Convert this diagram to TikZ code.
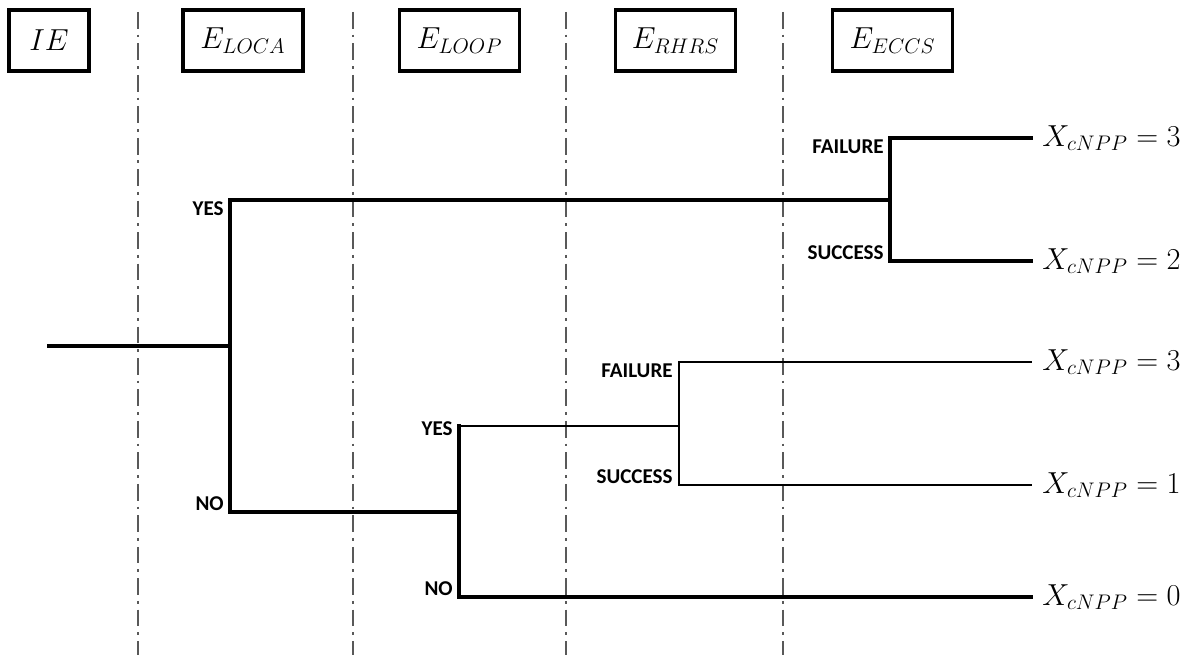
\documentclass[tikz,border=0pt]{standalone}
\usepackage{amsmath}
\usepackage{fontspec}
\newfontfamily\labelfont{Carlito}
\usetikzlibrary{positioning,calc}
\tikzset{
  thickline/.style={line width=2pt, line cap=rect},
  thinline/.style={line width=1.3pt, line cap=rect},
  sepline/.style={line width=1.5pt, gray!70!black, dash pattern=on 9.5pt off 3.4pt on 1.6pt off 3.4pt},
  headbox/.style={draw, line width=2pt, minimum width=2.4cm, minimum height=1.22cm, inner sep=0pt, font=\fontsize{17}{20}\selectfont},
  brlabel/.style={font=\labelfont\bfseries\fontsize{12}{14}\selectfont, inner xsep=1.2mm, inner ysep=0.2mm},
  outlabel/.style={anchor=west, inner xsep=2.2mm, inner ysep=0pt, font=\fontsize{16.5}{20}\selectfont}
}

\begin{document}
\begin{tikzpicture}[x=0.2mm, y=-0.2mm]
  \useasboundingbox (0,0) rectangle (1182,655);
  % column separators
  \foreach \sx in {138,353,566,783}
    \draw[sepline] (\sx,12) -- (\sx,655);

  % header boxes
  \node[headbox, minimum width=1.6cm] (ie) at (49,40.5) {$IE$};
  \node[headbox] (loca) at (243,40.5) {$E_{LOCA}$};
  \node[headbox] (loop) at (459.5,40.5) {$E_{LOOP}$};
  \node[headbox] (rhrs) at (675.5,40.5) {$E_{RHRS}$};
  \node[headbox] (eccs) at (892.5,40.5) {$E_{ECCS}$};

  % branch points
  \coordinate (root) at (49,346);
  \coordinate (j1) at (230,346);
  \coordinate (j1y) at (230,200);
  \coordinate (j1n) at (230,512);
  \coordinate (j2) at (890,200);
  \coordinate (j2f) at (890,138);
  \coordinate (j2s) at (890,261);
  \coordinate (j3) at (459,512);
  \coordinate (j3y) at (459,426);
  \coordinate (j3n) at (459,597);
  \coordinate (j4) at (679,426);
  \coordinate (j4f) at (679,362);
  \coordinate (j4s) at (679,485);

  % end states
  \node[outlabel] (x1) at (1031,138) {$X_{cNPP}=3$};
  \node[outlabel] (x2) at (1031,261) {$X_{cNPP}=2$};
  \node[outlabel] (x3) at (1031,362) {$X_{cNPP}=3$};
  \node[outlabel] (x4) at (1031,485) {$X_{cNPP}=1$};
  \node[outlabel] (x5) at (1031,597) {$X_{cNPP}=0$};

  % tree
  \draw[thickline] (root) -- (j1);
  \draw[thickline] (j1y) -- (j1n);
  \draw[thickline] (j1y) -- (j2);
  \draw[thickline] (j2f) -- (j2s);
  \draw[thickline] (j2f) -- (x1.west);
  \draw[thickline] (j2s) -- (x2.west);
  \draw[thickline] (j1n) -- (j3);
  \draw[thickline] (j3y) -- (j3n);
  \draw[thickline] (j3n) -- (x5.west);
  \draw[thinline] (j3y) -- (j4);
  \draw[thinline] (j4f) -- (j4s);
  \draw[thinline] (j4f) -- (x3.west);
  \draw[thinline] (j4s) -- (x4.west);

  % branch labels
  \node[brlabel, anchor=north east] (yes1) at (j1y) {YES};
  \node[brlabel, anchor=south east] (no1) at (j1n) {NO};
  \node[brlabel, anchor=north east] (fail2) at (j2f) {FAILURE};
  \node[brlabel, anchor=south east] (succ2) at (j2s) {SUCCESS};
  \node[brlabel, anchor=east] (yes3) at ($(j3y)+(0,3)$) {YES};
  \node[brlabel, anchor=south east] (no3) at (j3n) {NO};
  \node[brlabel, anchor=north east] (fail4) at (j4f) {FAILURE};
  \node[brlabel, anchor=south east] (succ4) at (j4s) {SUCCESS};
\end{tikzpicture}
\end{document}
